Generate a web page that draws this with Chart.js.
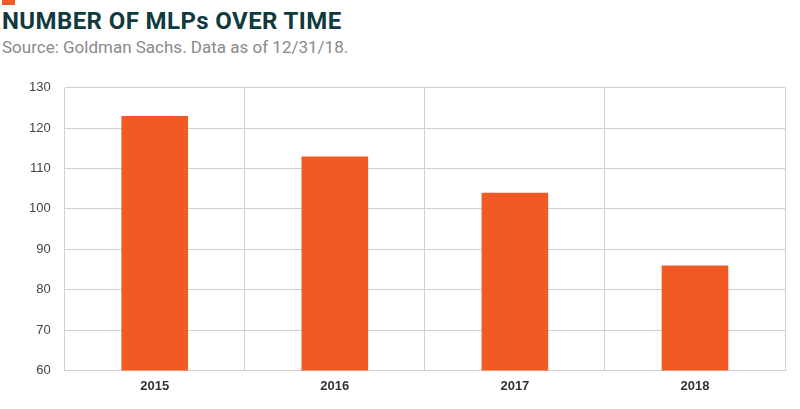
<!DOCTYPE html>
<html><head><meta charset="utf-8">
<script src="https://cdn.jsdelivr.net/npm/chart.js@4"></script>
<style>
body{margin:0;background:#fff;font-family:"Roboto","Open Sans",sans-serif;width:800px;height:409px;overflow:hidden;position:relative}
#acc{position:absolute;left:2px;top:0;width:13px;height:5px;background:#f15a24}
#t{position:absolute;left:2px;top:7px;font-size:24px;font-weight:bold;color:#0f3a3e;letter-spacing:0.4px}
#s{position:absolute;left:2px;top:37px;font-size:17px;color:#8a8a8a}
#w{position:absolute;left:0;top:66px;width:795px;height:336px}
</style></head><body>
<div id="acc"></div>
<div id="t">NUMBER OF MLPs OVER TIME</div>
<div id="s">Source: Goldman Sachs. Data as of 12/31/18.</div>
<div id="w"><canvas id="c"></canvas></div>
<script>
const categories=["2015","2016","2017","2018"];
const mlpCounts=[123,113,104,86];
new Chart(document.getElementById('c'),{type:'bar',
data:{labels:categories,datasets:[{data:mlpCounts,backgroundColor:'#f15a24',categoryPercentage:0.74,barPercentage:0.5}]},
options:{responsive:true,maintainAspectRatio:false,animation:false,
layout:{padding:{top:10,right:10,left:15}},
plugins:{legend:{display:false},tooltip:{enabled:false}},
scales:{
x:{grid:{color:'#d0d0d0',offset:true,drawTicks:false},border:{color:'#d0d0d0'},ticks:{color:'#333',font:{size:13,weight:'bold'},padding:8}},
y:{min:60,max:130,ticks:{stepSize:10,color:'#444',font:{size:13},padding:14},grid:{color:'#d0d0d0',drawTicks:false},border:{display:false}}
}}});
</script></body></html>
